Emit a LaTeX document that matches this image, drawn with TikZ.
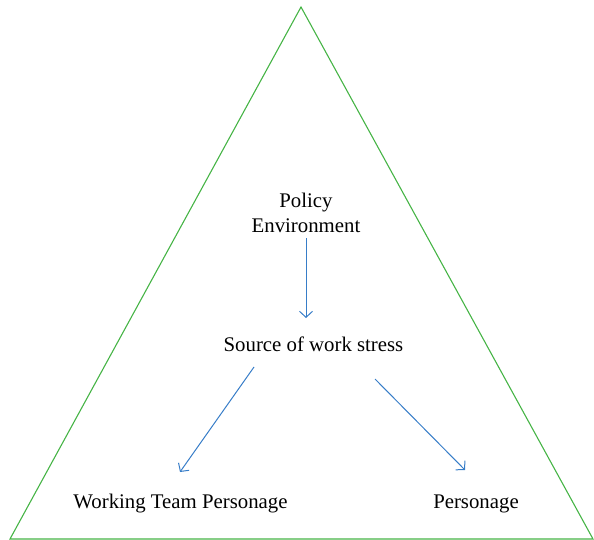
\documentclass[tikz,border=0pt]{standalone}
\usepackage{fontspec}
\setmainfont{Liberation Serif}
\usepackage{xcolor}
\usetikzlibrary{arrows.meta}
\definecolor{trigreen}{RGB}{70,180,70}
\definecolor{flowblue}{RGB}{55,125,200}

\begin{document}
\begin{tikzpicture}[x=1pt,y=-1pt,
  lbl/.style={align=center, inner sep=0pt, font=\fontsize{20.8}{25}\selectfont},
  flow/.style={draw=flowblue, line width=1pt, -{Straight Barb[length=6pt,width=13pt]}}]
\useasboundingbox (0,0) rectangle (594,540);
\draw[trigreen, line width=1.1pt] (301,7) -- (10,539) -- (593,539) -- cycle;
\node[lbl] (pol) at (306,213) {Policy\\Environment};
\node[lbl] (src) at (313.5,344) {Source of work stress};
\node[lbl] (team) at (180.5,503.5) {Working Team Personage};
\node[lbl] (pers) at (476,503.5) {Personage};
\draw[flow] ([shift={(0,25)}]pol.center) -- ([shift={(-7.5,-26)}]src.center);
\draw[flow] ([shift={(-59.5,23)}]src.center) -- ([shift={(-0.5,-31.5)}]team.center);
\draw[flow] ([shift={(61.5,35)}]src.center) -- ([shift={(-11,-33.5)}]pers.center);
\end{tikzpicture}
\end{document}
